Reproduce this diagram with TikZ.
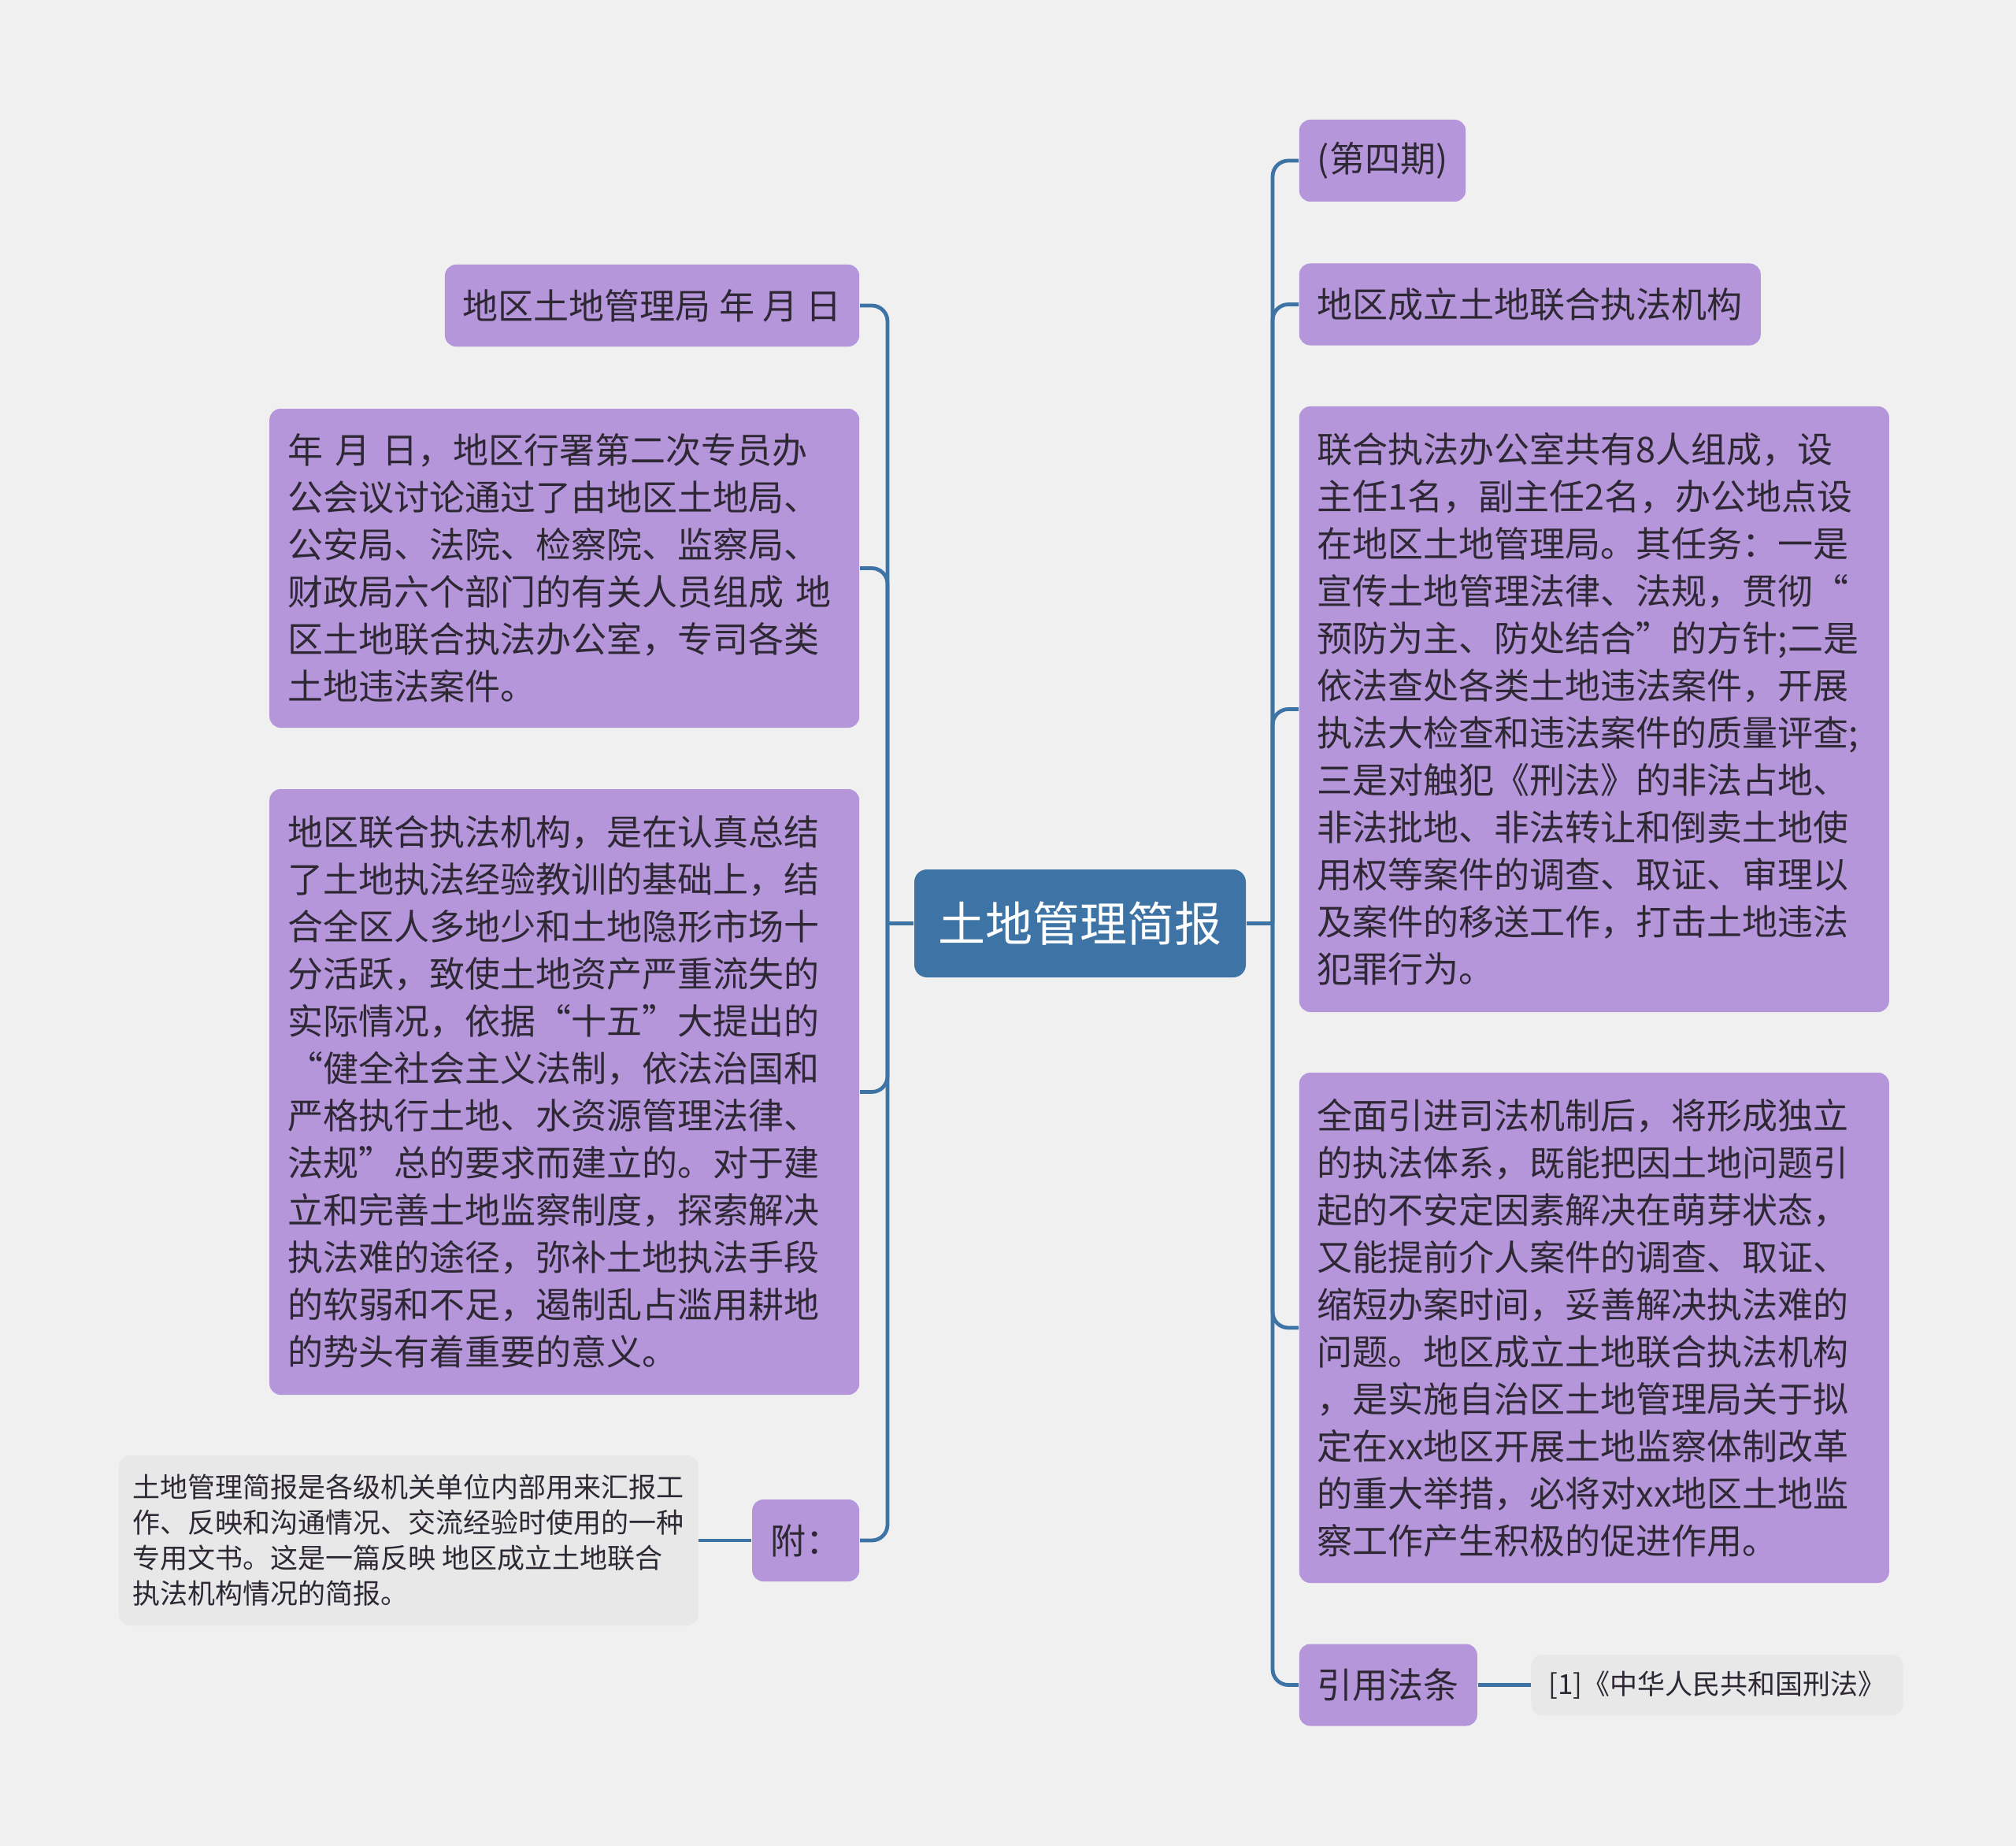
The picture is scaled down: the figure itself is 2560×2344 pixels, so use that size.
\documentclass[tikz,border=0pt]{standalone}
\usepackage{fontspec}
\setmainfont{Noto Sans CJK SC}
\usepackage{tikz}
\usetikzlibrary{positioning,calc}
\usepackage{xcolor}
\definecolor{paper}{RGB}{240,240,240}
\definecolor{lilac}{RGB}{182,150,219}
\definecolor{steel}{RGB}{61,115,165}
\definecolor{mist}{RGB}{232,232,232}
\definecolor{ink}{RGB}{45,40,52}
\tikzset{
  every node/.style={inner ysep=5pt},
}

\begin{document}
\begin{tikzpicture}[
  x=0.25pt,y=-0.25pt,
  link/.style={draw=steel,line width=1.2pt,rounded corners=5pt},
  rootbox/.style={fill=steel,text=white,rounded corners=4pt,
    font=\fontsize{15}{18}\selectfont,minimum width=105.25pt,minimum height=34.25pt},
  topic/.style={fill=lilac,text=ink,rounded corners=3.5pt,inner xsep=5.75pt,
    font=\fontsize{11.25}{15}\selectfont,minimum height=26pt},
  para/.style={topic,text width=175.75pt,align=left},
  note/.style={fill=mist,text=ink,rounded corners=3.5pt,inner xsep=4.5pt,
    font=\fontsize{8.75}{11.25}\selectfont,align=left}
]

\useasboundingbox[fill=paper] (0,0) rectangle (2560,2344);

\node[rootbox] (root) at (1371.5,1172.5) {土地管理简报};

\coordinate (lspine) at (1127,1172.5);
\coordinate (rspine) at (1616,1172.5);

% left side
\node[topic,anchor=east] (ldate) at (1092,388) {地区土地管理局 年 月 日};
\node[para,anchor=east,minimum height=101.25pt] (lmeet) at (1092,721.5) {%
年 月 日，地区行署第二次专员办\\
公会议讨论通过了由地区土地局、\\
公安局、法院、检察院、监察局、\\
财政局六个部门的有关人员组成 地\\
区土地联合执法办公室，专司各类\\
土地违法案件。};
\node[para,anchor=east,minimum height=192.25pt] (lbasis) at (1092,1386.5) {%
地区联合执法机构，是在认真总结\\
了土地执法经验教训的基础上，结\\
合全区人多地少和土地隐形市场十\\
分活跃，致使土地资产严重流失的\\
实际情况，依据“十五”大提出的\\
“健全社会主义法制，依法治国和\\
严格执行土地、水资源管理法律、\\
法规”总的要求而建立的。对于建\\
立和完善土地监察制度，探索解决\\
执法难的途径，弥补土地执法手段\\
的软弱和不足，遏制乱占滥用耕地\\
的势头有着重要的意义。};
\node[topic,anchor=east] (lnote) at (1092,1956) {附：};
\node[note,left=16.75pt of lnote,minimum height=54pt] (lnotetext) {%
土地管理简报是各级机关单位内部用来汇报工\\
作、反映和沟通情况、交流经验时使用的一种\\
专用文书。这是一篇反映 地区成立土地联合\\
执法机构情况的简报。};

% right side
\node[topic,anchor=west] (rissue) at (1649,204) {(第四期)};
\node[topic,anchor=west] (rorg) at (1649,386.5) {地区成立土地联合执法机构};
\node[para,anchor=west,minimum height=192.25pt] (rduty) at (1649,900.5) {%
联合执法办公室共有8人组成，设\\
主任1名，副主任2名，办公地点设\\
在地区土地管理局。其任务：一是\\
宣传土地管理法律、法规，贯彻“\\
预防为主、防处结合”的方针;二是\\
依法查处各类土地违法案件，开展\\
执法大检查和违法案件的质量评查;\\
三是对触犯《刑法》的非法占地、\\
非法批地、非法转让和倒卖土地使\\
用权等案件的调查、取证、审理以\\
及案件的移送工作，打击土地违法\\
犯罪行为。};
\node[para,anchor=west,minimum height=162pt] (reffect) at (1649,1686) {%
全面引进司法机制后，将形成独立\\
的执法体系，既能把因土地问题引\\
起的不安定因素解决在萌芽状态，\\
又能提前介人案件的调查、取证、\\
缩短办案时间，妥善解决执法难的\\
问题。地区成立土地联合执法机构\\
，是实施自治区土地管理局关于拟\\
定在xx地区开展土地监察体制改革\\
的重大举措，必将对xx地区土地监\\
察工作产生积极的促进作用。};
\node[topic,anchor=west] (rlaw) at (1649,2139.5) {引用法条};
\node[note,right=16.75pt of rlaw,inner xsep=5.5pt,minimum height=19.25pt] (rlawref) {[1]《中华人民共和国刑法》};

\draw[link] (root.west) -- (lspine);
\draw[link] (root.east) -- (rspine);
\foreach \leaf in {ldate,lmeet,lbasis,lnote}
  \draw[link] (lspine) |- (\leaf.east);
\foreach \leaf in {rissue,rorg,rduty,reffect,rlaw}
  \draw[link] (rspine) |- (\leaf.west);
\draw[link] (lnote.west) -- (lnotetext.east);
\draw[link] (rlaw.east) -- (rlawref.west);

\end{tikzpicture}
\end{document}
